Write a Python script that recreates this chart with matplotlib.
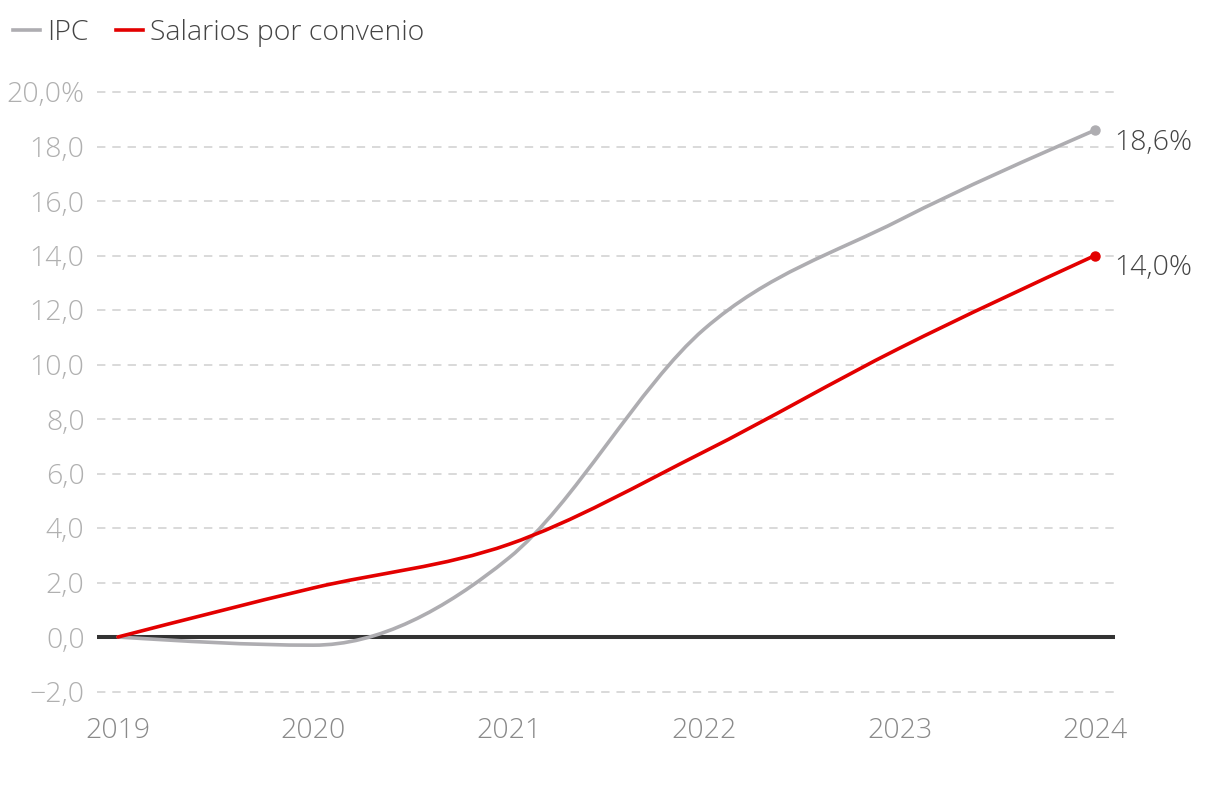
import numpy as np
import matplotlib
matplotlib.use("Agg")
import matplotlib.pyplot as plt
from matplotlib.path import Path
from matplotlib.patches import PathPatch
from matplotlib.lines import Line2D

plt.rcParams['font.family'] = ['Open Sans', 'DejaVu Sans']
plt.rcParams['font.weight'] = 'light'

# datos (variación acumulada desde 2019, %)
years = [2019, 2020, 2021, 2022, 2023, 2024]
ipc = [0.0, -0.3, 2.9, 11.3, 15.3, 18.6]
salarios = [0.0, 1.8, 3.4, 6.8, 10.6, 14.0]
yticks = [-2, 0, 2, 4, 6, 8, 10, 12, 14, 16, 18, 20]

GRAY = "#aeadb1"
RED = "#e30000"
FS = 20.5


def monotone_path(x, y):
    # curva monótona (tipo d3 curveMonotoneX) como path Bezier
    x = np.asarray(x, float)
    y = np.asarray(y, float)
    n = len(x)
    h = np.diff(x)
    s = np.diff(y) / h
    t = np.zeros(n)
    for i in range(1, n - 1):
        p = (s[i - 1] * h[i] + s[i] * h[i - 1]) / (h[i - 1] + h[i])
        t[i] = (np.sign(s[i - 1]) + np.sign(s[i])) * min(abs(s[i - 1]), abs(s[i]), 0.5 * abs(p))
    t[0] = (3 * s[0] - t[1]) / 2
    t[-1] = (3 * s[-1] - t[-2]) / 2
    verts = [(x[0], y[0])]
    codes = [Path.MOVETO]
    for i in range(n - 1):
        dx = h[i] / 3
        verts += [(x[i] + dx, y[i] + dx * t[i]),
                  (x[i + 1] - dx, y[i + 1] - dx * t[i + 1]),
                  (x[i + 1], y[i + 1])]
        codes += [Path.CURVE4] * 3
    return Path(verts, codes)


fig = plt.figure(figsize=(12.2, 7.98), dpi=100)
ax = fig.add_axes([97 / 1220, 1 - 710 / 798, (1115 - 97) / 1220, (710 - 80) / 798])

ax.set_xlim(2019 - 21 / 195.4, 2024 + 20 / 195.4)
ax.set_ylim(-73 / 27.25, 20 + 12 / 27.25)

for v in yticks:
    if v != 0:
        ax.axhline(v, color="#d0d0d0", lw=1.1, dashes=(5.5, 4.5), zorder=1)
ax.axhline(0, color="#333333", lw=2.9, zorder=4)

for vals, col in [(ipc, GRAY), (salarios, RED)]:
    ax.add_patch(PathPatch(monotone_path(years, vals), facecolor="none",
                           edgecolor=col, lw=2.6, capstyle="round", zorder=5))
    ax.plot(years[-1], vals[-1], "o", color=col, ms=6.5, zorder=6)
    ax.annotate(f"{vals[-1]:.1f}%".replace(".", ","), (years[-1], vals[-1]),
                xytext=(14, -9), textcoords="offset points", va="center", ha="left",
                fontsize=FS, color="#444444", annotation_clip=False)

ax.set_yticks(yticks)
ax.set_yticklabels([("−" if v < 0 else "") + f"{abs(v):.1f}".replace(".", ",") + ("%" if v == 20 else "")
                    for v in yticks])
ax.set_xticks(years)
ax.set_xticklabels([str(y) for y in years])
ax.tick_params(axis="y", length=0, pad=9, labelsize=FS, labelcolor="#b0b0b0")
ax.tick_params(axis="x", length=0, pad=5, labelsize=FS, labelcolor="#8a8a8a")
for sp in ax.spines.values():
    sp.set_visible(False)

handles = [Line2D([], [], color=GRAY, lw=2.6), Line2D([], [], color=RED, lw=2.6)]
fig.legend(handles, ["IPC", "Salarios por convenio"], loc="center left",
           bbox_to_anchor=(2 / 1220, 1 - 33 / 798), ncol=2, frameon=False,
           fontsize=FS, labelcolor="#444444", handlelength=0.95,
           handletextpad=0.25, columnspacing=0.95, borderaxespad=0)

fig.savefig("out.png", dpi=100)
